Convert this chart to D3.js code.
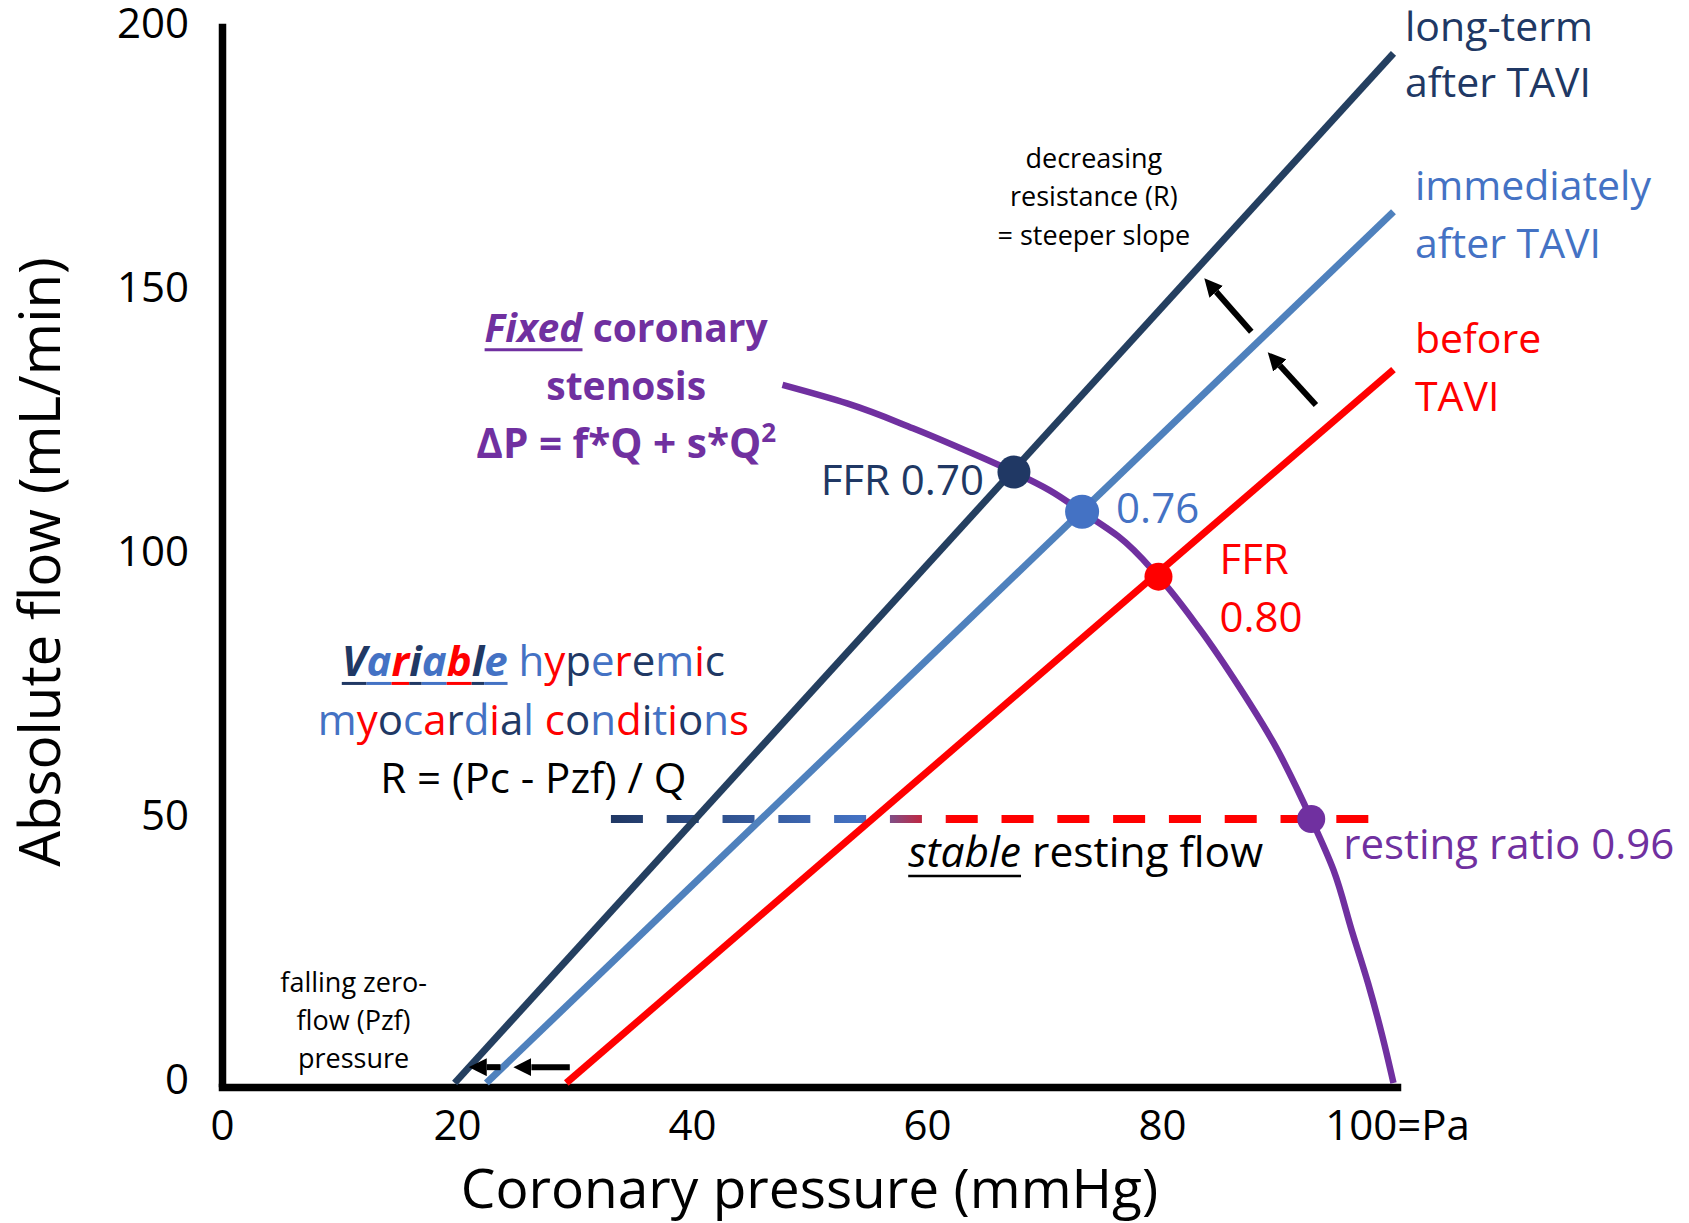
<!DOCTYPE html>
<html>
<head>
<meta charset="utf-8">
<script src="https://cdn.jsdelivr.net/npm/d3@7"></script>
<style>
  body { margin: 0; background: #fff; }
  svg { display: block; font-family: "Open Sans", sans-serif; }
  text { white-space: pre; }
</style>
</head>
<body>
<svg id="chart"></svg>
<script>
// Pressure-flow lines (pressure in mmHg, flow in mL/min)
var lineLabels = [["long-term", "after TAVI"], ["immediately", "after TAVI"], ["before", "TAVI"]];
var zeroFlowPressure = [19.8, 22.5, 29.3];
var topPressure = [99.7, 99.7, 99.7];
var topFlow = [195, 165, 135.1];

// Hyperemic points where each line meets the stenosis curve
var ffrPressure = [67.4, 73.2, 79.7];
var ffrFlow = [115.7, 108.2, 95.9];
var ffrLabels = [["FFR 0.70"], ["0.76"], ["FFR", "0.80"]];

var stenosisPressure = [47.7, 53.2, 58.8, 63.8, 67.4, 70.4, 73.2, 76.3, 79.7, 83.2, 86.6, 89.5, 92.7, 94.6, 96.2, 97.55, 98.75, 99.7];
var stenosisFlow = [132.2, 128.7, 124.0, 119.3, 115.7, 112.3, 108.2, 103.5, 95.9, 86.0, 74.9, 64.4, 50, 40.3, 28.5, 18.8, 8.9, 0];

// Stable resting flow
var restingFlow = 50;
var restingRange = [33.1, 97.7];
var restingPoint = [92.7, 50];
var restingLabel = "resting ratio 0.96";

// Axis ticks
var xTicks = [0, 20, 40, 60, 80, 100];
var xTickLabels = ["0", "20", "40", "60", "80", "100=Pa"];
var yTicks = [0, 50, 100, 150, 200];

// Colours
var navy = "#243f60", navyText = "#203864", blue = "#4f81bd", blueText = "#4472c4",
  red = "#ff0000", purple = "#7030a0";
var lineColours = [navy, blue, red];
var textColours = [navyText, blueText, red];
var colourKey = { N: navyText, B: blueText, R: red };

var width = 1689, height = 1223;

var svg = d3.select("#chart").attr("width", width).attr("height", height);
svg.append("rect").attr("width", width).attr("height", height).attr("fill", "#fff");

var x = d3.scaleLinear().domain([0, 100]).range([222, 1397]);
var y = d3.scaleLinear().domain([0, 200]).range([1083, 27]);

var defs = svg.append("defs");

// Gradient for the dashed resting flow line (navy -> blue -> red)
defs.append("linearGradient")
  .attr("id", "restGrad")
  .attr("gradientUnits", "userSpaceOnUse")
  .attr("x1", x(restingRange[0])).attr("x2", x(restingRange[1]))
  .attr("y1", 0).attr("y2", 0)
  .selectAll("stop")
  .data([[0, navyText], [0.33, blueText], [0.45, red], [1, red]])
  .enter()
  .append("stop")
  .attr("offset", function (d) { return d[0]; })
  .attr("stop-color", function (d) { return d[1]; });

defs.append("marker")
  .attr("id", "head")
  .attr("viewBox", "0 -5 10 10")
  .attr("refX", 0).attr("refY", 0)
  .attr("markerUnits", "userSpaceOnUse")
  .attr("markerWidth", 18).attr("markerHeight", 18)
  .attr("orient", "auto")
  .append("path")
  .attr("d", "M0,-5L10,0L0,5Z")
  .attr("fill", "#000");

// Axes
var yAxis = d3.axisLeft(y).tickValues(yTicks).tickSize(0).tickSizeOuter(0).tickPadding(33);
var gy = svg.append("g")
  .attr("transform", "translate(" + x(0) + ",0)")
  .call(yAxis);
gy.select(".domain").attr("stroke", "#000").attr("stroke-width", 7.5).attr("stroke-linecap", "square");
gy.selectAll("text").attr("font-family", "Open Sans").attr("font-size", 42).attr("fill", "#000").attr("dy", "0.24em");

var xAxis = d3.axisBottom(x).tickValues(xTicks).tickSize(0).tickSizeOuter(0).tickPadding(23)
  .tickFormat(function (d, i) { return xTickLabels[i]; });
var gx = svg.append("g")
  .attr("transform", "translate(0," + (y(0) + 4) + ")")
  .call(xAxis);
gx.select(".domain").attr("stroke", "#000").attr("stroke-width", 7.5).attr("stroke-linecap", "square");
gx.selectAll("text").attr("font-family", "Open Sans").attr("font-size", 42).attr("fill", "#000");

// Axis titles
svg.append("text")
  .attr("x", (x(0) + x(100)) / 2)
  .attr("y", 1208)
  .attr("text-anchor", "middle")
  .attr("font-size", 55)
  .text("Coronary pressure (mmHg)");

svg.append("text")
  .attr("transform", "translate(60,562) rotate(-90)")
  .attr("text-anchor", "middle")
  .attr("font-size", 56.5)
  .text("Absolute flow (mL/min)");

// Dashed resting flow line
svg.append("line")
  .attr("x1", x(restingRange[0])).attr("x2", x(restingRange[1]))
  .attr("y1", y(restingFlow)).attr("y2", y(restingFlow))
  .attr("stroke", "url(#restGrad)")
  .attr("stroke-width", 8)
  .attr("stroke-dasharray", "32 23.8");

// Pressure-flow lines
var line = d3.line()
  .x(function (d) { return x(d[0]); })
  .y(function (d) { return y(d[1]); });

zeroFlowPressure.forEach(function (p, i) {
  svg.append("path")
    .attr("d", line([[p, 0], [topPressure[i], topFlow[i]]]))
    .attr("stroke", lineColours[i])
    .attr("stroke-width", 7)
    .attr("fill", "none");
});

// Stenosis curve
var stenosisData = stenosisPressure.map(function (p, i) { return [p, stenosisFlow[i]]; });
svg.append("path")
  .attr("d", line.curve(d3.curveMonotoneY)(stenosisData))
  .attr("stroke", purple)
  .attr("stroke-width", 6.5)
  .attr("fill", "none");

// Points on the curve
var dotRadius = [16.5, 17, 14];
ffrPressure.forEach(function (p, i) {
  svg.append("circle")
    .attr("cx", x(p)).attr("cy", y(ffrFlow[i]))
    .attr("r", dotRadius[i])
    .attr("fill", textColours[i]);
});
svg.append("circle")
  .attr("cx", x(restingPoint[0])).attr("cy", y(restingPoint[1]))
  .attr("r", 14)
  .attr("fill", purple);

// FFR labels
var ffrDx = [-30, 34, 61], ffrDy = [23, 11, -3], ffrAnchor = ["end", "start", "start"];
ffrLabels.forEach(function (lines, i) {
  lines.forEach(function (t, j) {
    svg.append("text")
      .attr("x", x(ffrPressure[i]) + ffrDx[i])
      .attr("y", y(ffrFlow[i]) + ffrDy[i] + j * 58)
      .attr("text-anchor", ffrAnchor[i])
      .attr("font-size", 42)
      .attr("fill", textColours[i])
      .text(t);
  });
});

svg.append("text")
  .attr("x", x(restingPoint[0]) + 32)
  .attr("y", y(restingPoint[1]) + 40)
  .attr("font-size", 42)
  .attr("fill", purple)
  .text(restingLabel);

// Line labels at the top right
var labelDx = [11.5, 21.5, 21.5];
var labelDy = [[-12.5, 43.5], [-12, 46], [-16.5, 41.5]];
lineLabels.forEach(function (lines, i) {
  lines.forEach(function (t, j) {
    svg.append("text")
      .attr("x", x(topPressure[i]) + labelDx[i])
      .attr("y", y(topFlow[i]) + labelDy[i][j])
      .attr("font-size", 41)
      .attr("fill", textColours[i])
      .text(t);
  });
});

// Arrows
var arrows = [
  [[87.6, 142.3], [83.6, 152.4]],
  [[93.1, 128.4], [89.0, 138.4]],
  [[29.6, 3.0], [24.8, 3.0]],
  [[23.7, 3.0], [21.0, 3.0]]
];
arrows.forEach(function (a) {
  var x1 = x(a[0][0]), y1 = y(a[0][1]), x2 = x(a[1][0]), y2 = y(a[1][1]);
  var len = Math.hypot(x2 - x1, y2 - y1);
  var k = (len - 18) / len;
  svg.append("line")
    .attr("x1", x1).attr("y1", y1)
    .attr("x2", x1 + (x2 - x1) * k).attr("y2", y1 + (y2 - y1) * k)
    .attr("stroke", "#000")
    .attr("stroke-width", 6)
    .attr("marker-end", "url(#head)");
});

// Underline helper using character extents
function underline(textSel, from, to, dy, colour, thick) {
  var node = textSel.node();
  var a = node.getExtentOfChar(from), b = node.getExtentOfChar(to);
  var base = +textSel.attr("y");
  svg.append("line")
    .attr("x1", a.x).attr("x2", b.x + b.width)
    .attr("y1", base + dy).attr("y2", base + dy)
    .attr("stroke", colour)
    .attr("stroke-width", thick);
}

// Fixed coronary stenosis block
var fixedX = x(34.4), fixedY = y(140.4);
var fixed1 = svg.append("text")
  .attr("x", fixedX).attr("y", fixedY)
  .attr("text-anchor", "middle")
  .attr("font-size", 39).attr("font-weight", "bold")
  .attr("fill", purple);
fixed1.append("tspan").attr("font-style", "italic").text("Fixed");
fixed1.append("tspan").text(" coronary");
underline(fixed1, 0, 4, 8, purple, 3);

svg.append("text")
  .attr("x", fixedX).attr("y", fixedY + 58)
  .attr("text-anchor", "middle")
  .attr("font-size", 39).attr("font-weight", "bold")
  .attr("fill", purple)
  .text("stenosis");

var fixed3 = svg.append("text")
  .attr("x", fixedX).attr("y", fixedY + 116)
  .attr("text-anchor", "middle")
  .attr("font-size", 40.5).attr("font-weight", "bold")
  .attr("fill", purple);
fixed3.append("tspan").text("\u0394P = f*Q + s*Q");
fixed3.append("tspan").attr("font-size", 26).attr("dy", -16).text("2");

// Variable hyperemic myocardial conditions block
var varX = x(26.5), varY = y(77);
var words1 = [["Variable", "NBRNBRNB", true], [" ", " ", false], ["hyperemic", "BRNBRNBRN", false]];
var words2 = [["myocardial", "BRNBRNBRNB", false], [" ", " ", false], ["conditions", "RNBRNBRNBR", false]];

function colouredLine(words, yPos) {
  var t = svg.append("text")
    .attr("x", varX).attr("y", yPos)
    .attr("text-anchor", "middle")
    .attr("font-size", 42);
  words.forEach(function (w) {
    w[0].split("").forEach(function (ch, i) {
      var sp = t.append("tspan").text(ch).attr("fill", colourKey[w[1][i]] || "#000");
      if (w[2]) sp.attr("font-weight", "bold").attr("font-style", "italic");
    });
  });
  return t;
}

var var1 = colouredLine(words1, varY);
"NBRNBRNB".split("").forEach(function (c, i) {
  underline(var1, i, i, 7, colourKey[c], 3);
});
colouredLine(words2, varY + 59);

svg.append("text")
  .attr("x", varX).attr("y", varY + 117)
  .attr("text-anchor", "middle")
  .attr("font-size", 42)
  .attr("fill", "#000")
  .text("R = (Pc - Pzf) / Q");

// stable resting flow
var stable = svg.append("text")
  .attr("x", x(58.4)).attr("y", y(restingFlow) + 48)
  .attr("font-size", 42.5)
  .attr("fill", "#000");
stable.append("tspan").attr("font-style", "italic").text("stable");
stable.append("tspan").text(" resting flow");
underline(stable, 0, 5, 9, "#000", 2.5);

// Small notes
var notes = [
  { px: 74.2, py: 173.3, lines: ["decreasing", "resistance (R)", "= steeper slope"] },
  { px: 11.2, py: 17.3, lines: ["falling zero-", "flow (Pzf)", "pressure"] }
];
notes.forEach(function (n) {
  n.lines.forEach(function (t, j) {
    svg.append("text")
      .attr("x", x(n.px))
      .attr("y", y(n.py) + j * 38.3)
      .attr("text-anchor", "middle")
      .attr("font-size", 27)
      .attr("fill", "#000")
      .text(t);
  });
});
</script>
</body>
</html>
